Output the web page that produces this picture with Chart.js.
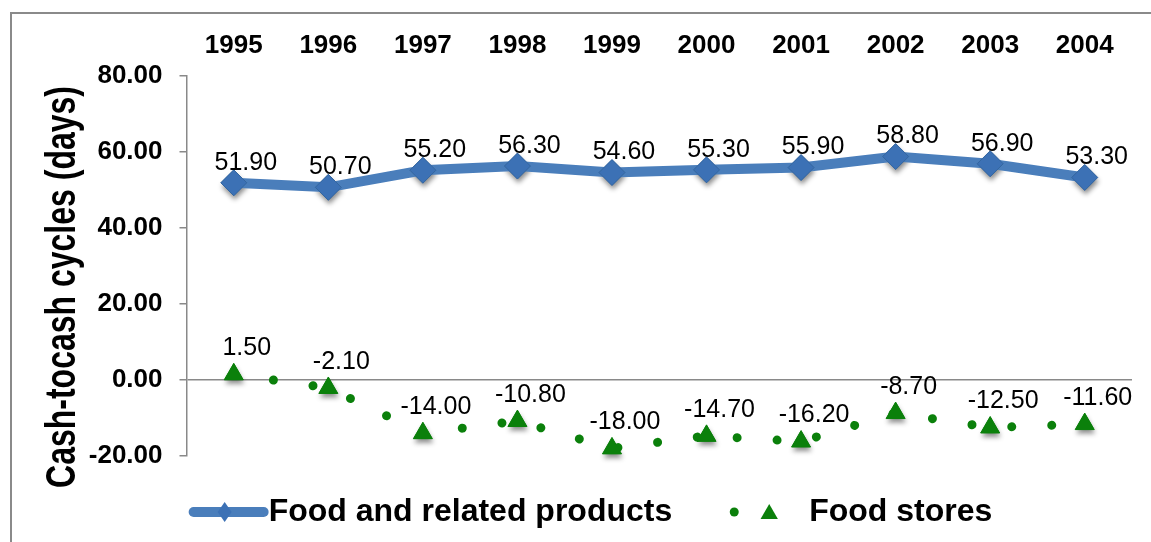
<!DOCTYPE html>
<html>
<head>
<meta charset="utf-8">
<script src="https://cdn.jsdelivr.net/npm/chart.js@4.4.0/dist/chart.umd.min.js"></script>
<style>
html, body { margin: 0; padding: 0; background: #fff; overflow: hidden; }
#frame { position: absolute; left: 10px; top: 12px; width: 1160px; height: 560px; border: 2px solid #8a8a8a; box-sizing: border-box; }
#wrap { position: absolute; left: 0; top: 0; width: 1151px; height: 542px; }
</style>
</head>
<body>
<div id="frame"></div>
<div id="wrap"><canvas id="chart"></canvas></div>
<script>
// Data
var years = ['1995', '1996', '1997', '1998', '1999', '2000', '2001', '2002', '2003', '2004'];
var foodProducts = [51.90, 50.70, 55.20, 56.30, 54.60, 55.30, 55.90, 58.80, 56.90, 53.30];
var foodStores = [1.50, -2.10, -14.00, -10.80, -18.00, -14.70, -16.20, -8.70, -12.50, -11.60];
var yTickValues = [-20, 0, 20, 40, 60, 80];
var yTitle = 'Cash-tocash cycles (days)';

var FONT = '"Liberation Sans", Arial, sans-serif';
var BLUE = '#4a7ebb';
var BLUE_PT = '#3c71b5';
var GREEN = '#0b800b';

function diamond(ctx, x, y, rx, ry) {
    ctx.beginPath();
    ctx.moveTo(x - rx, y);
    ctx.lineTo(x, y - ry);
    ctx.lineTo(x + rx, y);
    ctx.lineTo(x, y + ry);
    ctx.closePath();
}

function triangle(ctx, x, y, r) {
    ctx.beginPath();
    ctx.moveTo(x, y - r);
    ctx.lineTo(x + r * 0.866, y + r / 2);
    ctx.lineTo(x - r * 0.866, y + r / 2);
    ctx.closePath();
}

// Soft shadows under the markers, drawn before the series
var markerShadows = {
    id: 'markerShadows',
    beforeDatasetsDraw: function(chart) {
        var ctx = chart.ctx;
        ctx.save();
        ctx.shadowColor = 'rgba(0,0,0,0.45)';
        ctx.shadowBlur = 5;
        ctx.shadowOffsetX = 1;
        ctx.shadowOffsetY = 4;
        chart.data.datasets.forEach(function(ds, i) {
            ctx.fillStyle = ds.pointBackgroundColor;
            chart.getDatasetMeta(i).data.forEach(function(pt) {
                if (ds.pointStyle === 'triangle') {
                    triangle(ctx, pt.x, pt.y, ds.pointRadius);
                } else {
                    diamond(ctx, pt.x, pt.y, ds.pointRadius, ds.pointRadius);
                }
                ctx.fill();
            });
        });
        ctx.restore();
    }
};

// Value labels above each point
var valueLabels = {
    id: 'valueLabels',
    afterDatasetsDraw: function(chart) {
        var ctx = chart.ctx;
        ctx.save();
        ctx.font = '25px ' + FONT;
        ctx.fillStyle = '#000';
        ctx.textAlign = 'center';
        ctx.textBaseline = 'middle';
        chart.data.datasets.forEach(function(ds, i) {
            var meta = chart.getDatasetMeta(i);
            meta.data.forEach(function(pt, j) {
                ctx.fillText(ds.data[j].toFixed(2), pt.x + ds.labelDx, pt.y - ds.labelDy);
            });
        });
        ctx.restore();
    }
};

// Rotated axis title, centred a little below the plot middle like the original
var axisTitle = {
    id: 'axisTitle',
    afterDraw: function(chart) {
        var ctx = chart.ctx;
        var area = chart.chartArea;
        ctx.save();
        ctx.translate(75, (area.top + area.bottom) / 2 + 21);
        ctx.rotate(-Math.PI / 2);
        ctx.scale(1, 1.3);
        ctx.font = 'bold 32px ' + FONT;
        ctx.fillStyle = '#000';
        ctx.textAlign = 'center';
        ctx.textBaseline = 'alphabetic';
        ctx.fillText(yTitle, 0, 0);
        ctx.restore();
    }
};

// Legend drawn under the plot
var bottomLegend = {
    id: 'bottomLegend',
    afterDraw: function(chart) {
        var ctx = chart.ctx;
        var ds = chart.data.datasets;
        ctx.save();
        ctx.font = 'bold 32px ' + FONT;
        var w1 = ctx.measureText(ds[0].label).width;
        var w2 = ctx.measureText(ds[1].label).width;
        var total = 80 + w1 + 55 + 80 + w2;
        var x = chart.width / 2 + 14 - total / 2;
        var y = 512;

        ctx.strokeStyle = BLUE;
        ctx.lineWidth = 10;
        ctx.lineCap = 'round';
        ctx.beginPath();
        ctx.moveTo(x + 5, y);
        ctx.lineTo(x + 75, y);
        ctx.stroke();
        diamond(ctx, x + 36, y, 7, 10);
        ctx.fillStyle = BLUE_PT;
        ctx.fill();

        ctx.fillStyle = '#000';
        ctx.textBaseline = 'alphabetic';
        ctx.fillText(ds[0].label, x + 80, y + 9);

        var x2 = x + 80 + w1 + 57;
        ctx.fillStyle = GREEN;
        ctx.beginPath();
        ctx.arc(x2 + 5, y, 4.5, 0, Math.PI * 2);
        ctx.fill();
        triangle(ctx, x2 + 40, y + 2, 10);
        ctx.fill();

        ctx.fillStyle = '#000';
        ctx.fillText(ds[1].label, x2 + 80, y + 9);
        ctx.restore();
    }
};

new Chart(document.getElementById('chart'), {
    type: 'line',
    data: {
        labels: years,
        datasets: [
            {
                label: 'Food and related products',
                data: foodProducts,
                borderColor: BLUE,
                borderWidth: 10,
                pointStyle: 'rectRot',
                pointRadius: 13,
                pointBackgroundColor: BLUE_PT,
                pointBorderColor: '#34669f',
                pointBorderWidth: 1,
                labelDx: 12,
                labelDy: 20
            },
            {
                label: 'Food stores',
                data: foodStores,
                borderColor: GREEN,
                borderWidth: 9,
                borderDash: [0.01, 40],
                borderCapStyle: 'round',
                pointStyle: 'triangle',
                pointRadius: 11,
                pointBackgroundColor: GREEN,
                pointBorderColor: GREEN,
                pointBorderWidth: 1,
                labelDx: 13,
                labelDy: 26
            }
        ]
    },
    options: {
        responsive: true,
        maintainAspectRatio: false,
        animation: false,
        layout: { padding: { left: 0, right: 19, top: 0, bottom: 86 } },
        plugins: {
            legend: { display: false },
            tooltip: { enabled: false }
        },
        scales: {
            x: {
                position: 'top',
                offset: true,
                grid: { display: false, drawTicks: false },
                border: { display: false },
                ticks: {
                    color: '#000',
                    padding: 15,
                    font: { family: FONT, size: 26, weight: 'bold' }
                },
                afterFit: function(scale) { scale.height = 76; }
            },
            y: {
                min: yTickValues[0],
                max: yTickValues[yTickValues.length - 1],
                afterBuildTicks: function(scale) {
                    scale.ticks = yTickValues.map(function(v) { return { value: v }; });
                },
                grid: {
                    color: function(c) { return c.tick && c.tick.value === 0 ? '#898989' : 'rgba(0,0,0,0)'; },
                    lineWidth: 1.5,
                    tickColor: '#898989',
                    tickLength: 7
                },
                border: { display: true, color: '#898989', width: 1.5 },
                ticks: {
                    color: '#000',
                    padding: 17,
                    font: { family: FONT, size: 26, weight: 'bold' },
                    callback: function(v) { return Number(v).toFixed(2); }
                },
                afterFit: function(scale) { scale.width = 186.5; }
            }
        }
    },
    plugins: [markerShadows, valueLabels, axisTitle, bottomLegend]
});
</script>
</body>
</html>
